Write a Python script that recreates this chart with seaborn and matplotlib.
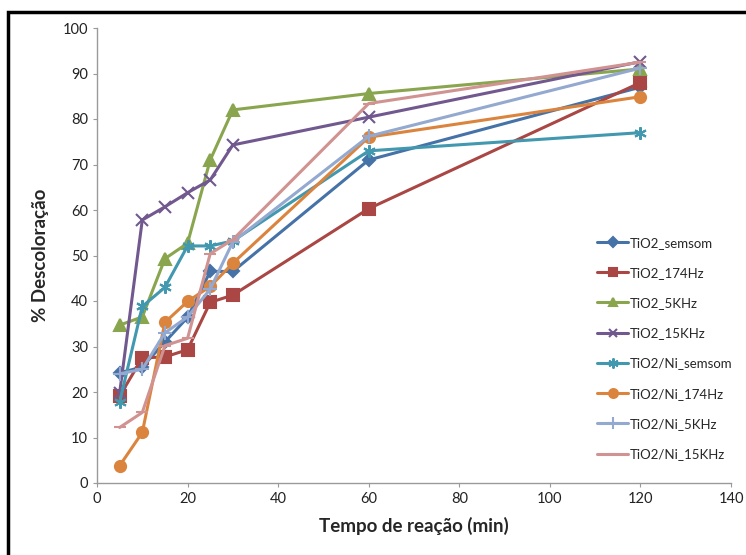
import pandas as pd
import numpy as np
import matplotlib.pyplot as plt
import seaborn as sns
from matplotlib.patches import Rectangle

sns.set_theme(style='white')
plt.rcParams['font.family'] = ['Lato', 'DejaVu Sans']

# Reaction time (min)
tempo = [5, 10, 15, 20, 25, 30, 60, 120]

# % decolorization per series
tio2_semsom = [24.2, 25.5, 31.0, 36.4, 46.5, 46.5, 71.0, 87.0]
tio2_174hz = [19.1, 27.5, 27.7, 29.3, 39.7, 41.3, 60.3, 88.0]
tio2_5khz = [34.7, 36.5, 49.3, 52.7, 71.0, 82.0, 85.6, 91.0]
tio2_15khz = [19.8, 57.8, 60.7, 63.8, 66.6, 74.3, 80.4, 92.6]
ni_semsom = [17.8, 38.8, 43.0, 52.1, 52.1, 53.2, 73.0, 77.0]
ni_174hz = [3.8, 11.1, 35.3, 39.9, 43.2, 48.3, 76.0, 84.9]
ni_5khz = [24.0, 25.0, 33.0, 36.5, 42.6, 53.0, 76.2, 91.2]
ni_15khz = [12.2, 15.5, 30.2, 31.8, 50.4, 53.5, 83.4, 92.5]

series = {
    'TiO2_semsom': tio2_semsom,
    'TiO2_174Hz': tio2_174hz,
    'TiO2_5KHz': tio2_5khz,
    'TiO2_15KHz': tio2_15khz,
    'TiO2/Ni_semsom': ni_semsom,
    'TiO2/Ni_174Hz': ni_174hz,
    'TiO2/Ni_5KHz': ni_5khz,
    'TiO2/Ni_15KHz': ni_15khz,
}

colors = ['#4572A7', '#AA4643', '#89A54E', '#71588F',
          '#4198AF', '#DB843D', '#93A9CF', '#D19392']
markers = ['D', 's', '^', 'x', (6, 2, 0), 'o', '+', '_']
msizes = [6, 8, 8, 8, 9, 8, 10, 8]

df = pd.DataFrame([(name, t, v) for name, vals in series.items()
                   for t, v in zip(tempo, vals)],
                  columns=['serie', 'tempo', 'desc'])

fig = plt.figure(figsize=(7.46, 5.55), dpi=100)
ax = fig.add_axes([97 / 746, 1 - 483 / 555, 634 / 746, 455 / 555])

for i, name in enumerate(series):
    sub = df[df['serie'] == name]
    sns.lineplot(data=sub, x='tempo', y='desc', ax=ax, color=colors[i],
                 marker=markers[i], markersize=msizes[i], linewidth=2.2,
                 markeredgewidth=1.5, markeredgecolor=colors[i],
                 label=name, estimator=None, sort=False)

ax.set_xlim(0, 140)
ax.set_ylim(0, 100)
ax.set_xticks(np.arange(0, 141, 20))
ax.set_yticks(np.arange(0, 101, 10))
ax.tick_params(labelsize=10.5, colors='#222222', length=3, width=0.8,
               direction='out', bottom=True, left=True)
for s in ['top', 'right']:
    ax.spines[s].set_visible(False)
for s in ['left', 'bottom']:
    ax.spines[s].set_color('#9a9a9a')
    ax.spines[s].set_linewidth(1.0)
ax.tick_params(axis='both', color='#9a9a9a')

ax.set_xlabel('Tempo de reação (min)', fontsize=13.5, fontweight='bold', labelpad=8)
ax.set_ylabel('% Descoloração', fontsize=13.5, fontweight='bold', labelpad=10)

leg = ax.legend(loc='upper left', bbox_to_anchor=(0.78, 0.553), frameon=False,
                fontsize=9.5, labelspacing=1.38, handlelength=2.4, handletextpad=0.1,
                borderaxespad=0, markerscale=0.8)

# black frame around the chart
fig.patches.append(Rectangle((8 / 746, -0.02), 1.02, 1 - 12 / 555 + 0.02,
                             transform=fig.transFigure, fill=False,
                             edgecolor='black', linewidth=2.5))

fig.savefig('out.png', dpi=100)
